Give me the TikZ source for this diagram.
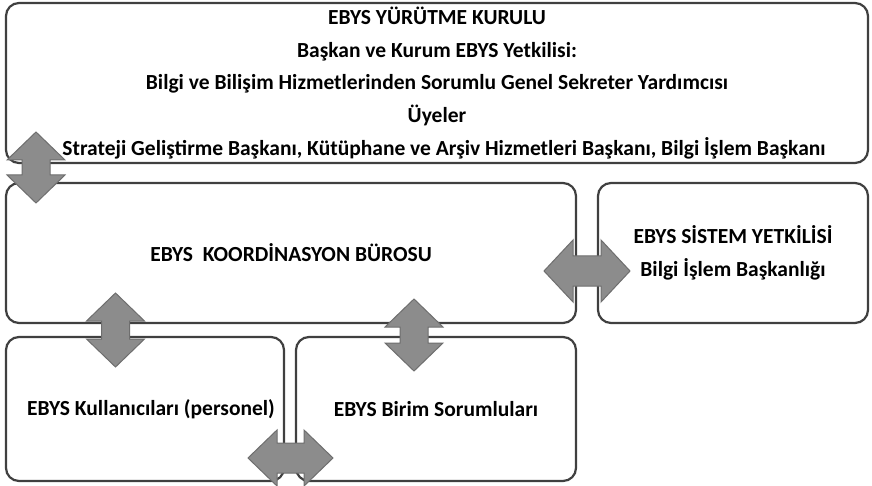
\documentclass[tikz,border=0pt]{standalone}
\usepackage{fontspec}
\setmainfont{Carlito}
\definecolor{boxline}{HTML}{404040}
\definecolor{arrowfill}{HTML}{8C8C8C}
\definecolor{arrowline}{HTML}{6E6E6E}
\newcommand\vdarrow[3]{% cx, top tip, bottom tip
  \draw[dbl] (#1,#2) -- ({#1+29},{#2+28}) -- ({#1+14},{#2+28}) -- ({#1+14},{#3-28}) -- ({#1+29},{#3-28}) -- (#1,#3)
     -- ({#1-29},{#3-28}) -- ({#1-14},{#3-28}) -- ({#1-14},{#2+28}) -- ({#1-29},{#2+28}) -- cycle;}
\newcommand\hdarrow[4]{% cy, left tip, right tip, head half height
  \draw[dbl] (#2,#1) -- ({#2+29},{#1-#4}) -- ({#2+29},{#1-15}) -- ({#3-29},{#1-15}) -- ({#3-29},{#1-#4}) -- (#3,#1)
     -- ({#3-29},{#1+#4}) -- ({#3-29},{#1+15}) -- ({#2+29},{#1+15}) -- ({#2+29},{#1+#4}) -- cycle;}
\begin{document}
\begin{tikzpicture}[x=1pt,y=-1pt,
  box/.style={draw=boxline, line width=2.2pt, rounded corners=13pt, fill=white, inner sep=0pt,
    font=\fontsize{21.5}{32.7}\selectfont\bfseries, align=center},
  dbl/.style={fill=arrowfill, draw=arrowline, line width=1pt, line join=miter}]
\useasboundingbox (0,0) rectangle (872,486);
\node[box, minimum width=862pt, minimum height=160pt] (kurul) at (437,83)
  {EBYS YÜRÜTME KURULU\\Başkan ve Kurum EBYS Yetkilisi:\\Bilgi ve Bilişim Hizmetlerinden Sorumlu Genel Sekreter Yardımcısı\\Üyeler\\\hspace*{14pt}Strateji Geliştirme Başkanı, Kütüphane ve Arşiv Hizmetleri Başkanı, Bilgi İşlem Başkanı};
\node[box, minimum width=570pt, minimum height=140pt] (koord) at (291,253) {EBYS\ \ KOORDİNASYON BÜROSU};
\node[box, minimum width=270pt, minimum height=140pt] (sistem) at (733,253) {EBYS SİSTEM YETKİLİSİ\\Bilgi İşlem Başkanlığı};
\node[box, minimum width=278pt, minimum height=144pt] (kullan) at (145,409) {\hspace*{12pt}EBYS Kullanıcıları (personel)};
\node[box, minimum width=280pt, minimum height=144pt] (birim) at (436,409) {EBYS Birim Sorumluları};
\vdarrow{36}{132}{203}
\vdarrow{115.5}{293}{367}
\vdarrow{414}{299}{371}
\hdarrow{271}{544}{630}{31}
\hdarrow{458}{248}{333}{28}
\end{tikzpicture}
\end{document}
